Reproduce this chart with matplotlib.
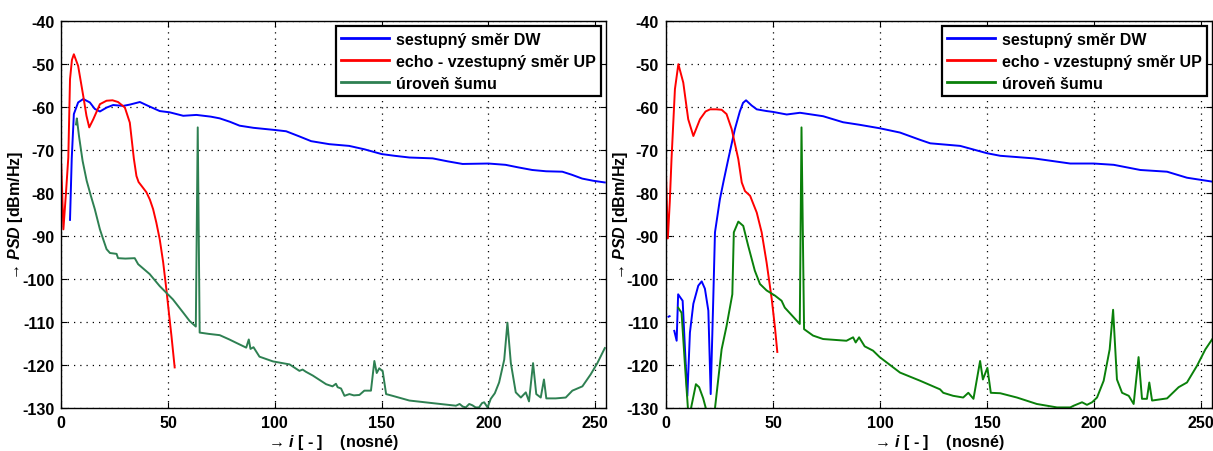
import numpy as np
import matplotlib
matplotlib.use("Agg")
import matplotlib.pyplot as plt

plt.rcParams['font.family'] = ['Liberation Sans', 'DejaVu Sans']
plt.rcParams['font.weight'] = 'bold'
plt.rcParams['axes.unicode_minus'] = False
plt.rcParams['mathtext.fontset'] = 'custom'
plt.rcParams['mathtext.rm'] = 'Liberation Sans:bold'
plt.rcParams['mathtext.it'] = 'Liberation Sans:italic:bold'
plt.rcParams['mathtext.bf'] = 'Liberation Sans:bold'

nan = np.nan

# ---------------- left panel ----------------
L_dw_x = [4.1, 4.9, 5.9, 7.9, 10.3, 13.4, 15.7, 18.1, 21.2, 24.3, 29.0, 32.1, 36.8, 40.7, 46.1, 50.8, 57.1,
          63.3, 70, 74.2, 79, 83.5, 90, 100, 105.3, 111.5, 117, 125.5, 134.8, 142, 150, 156, 163, 173.9, 181,
          187.9, 200, 208, 214, 220.5, 227, 234.6, 239, 243.9, 249, 254.5]
L_dw_y = [-86.2, -72.0, -61.6, -58.9, -58.1, -58.9, -60.4, -61.0, -60.1, -59.5, -59.7, -59.4, -58.8, -59.7, -60.9,
          -61.2, -62.0, -61.8, -62.2, -62.6, -63.4, -64.3, -64.8, -65.3, -65.6, -66.8, -67.9, -68.6, -69.0, -69.8,
          -70.9, -71.3, -71.7, -71.9, -72.6, -73.2, -73.1, -73.4, -74.0, -74.6, -74.9, -75.0, -75.7, -76.6, -77.1,
          -77.5]

L_up_x = [0, 1.0, 2.2, 3.3, 4.1, 5.0, 5.9, 7.9, 10.3, 11.8, 13.1, 15.0, 18.1, 21.2, 24.0, 26.6, 29.8, 32.1, 34.0,
          35.2, 36.2, 37.6, 39.9, 41.5, 43, 44.5, 46.1, 47.7, 49.2, 50.4, 51.6, 53.1]
L_up_y = [-73.4, -88.4, -80.0, -71.7, -53.5, -49.0, -47.7, -50.4, -57.4, -62.0, -64.7, -62.8, -59.3, -58.5, -58.4,
          -58.8, -60.1, -63.6, -72.0, -76.0, -77.4, -78.3, -79.8, -81.5, -83.7, -86.8, -90.7, -96.0, -102.3,
          -107.8, -113.2, -120.5]

L_nz_x = [6.9, 7.3, 8.3, 10, 11.9, 13.8, 15.7, 18.1, 19.7, 21.2, 22.8, 25.9, 26.6, 30, 34.4, 36, 41.4, 46.1, 52.3,
          57, 60.1, 63.0, 63.9, 64.8, 69, 74.2, 78.7, 82, 86.6, 87.8, 88.6, 89.3, 90, 92.8, 99.1, 106.9, 111.5,
          113, 114.5, 117.8, 124, 127, 128.6, 129.4, 131, 132.6, 134.9, 137, 139.6, 141.9, 145, 146.6, 147.7,
          148.9, 150.5, 152.1, 155.1, 163, 173.8, 184.8, 186.5, 188, 189.4, 191, 192.5, 194, 195.6, 197, 198,
          199.6, 201.1, 203, 205, 207.4, 208.9, 210.5, 212.8, 215.2, 217.5, 219, 220.9, 222.4, 224.5, 226,
          227.1, 231.5, 236.2, 239.3, 244, 247.9, 251, 254.5]
L_nz_y = [-64.0, -62.6, -66.7, -72.5, -77.1, -80.5, -83.7, -88.4, -90.8, -93.0, -93.9, -94.1, -95.1, -95.2, -95.1,
          -96.5, -98.8, -101.6, -104.7, -107.7, -109.7, -111.0, -64.7, -112.4, -112.7, -113.0, -114.0, -114.8,
          -115.9, -114.0, -116.2, -116.0, -115.8, -118.0, -119.1, -119.8, -121.3, -121.0, -121.5, -122.4, -124.4,
          -124.9, -124.3, -125.1, -125.4, -127.1, -126.7, -127.0, -126.9, -125.9, -125.9, -119.0, -121.8, -120.7,
          -121.4, -126.7, -127.1, -128.2, -128.8, -129.4, -129.0, -129.6, -129.8, -129.0, -129.3, -129.8, -129.8,
          -128.8, -128.6, -129.8, -127.8, -126.5, -124.0, -118.7, -110.1, -119.5, -126.3, -127.5, -126.3, -128.4,
          -119.5, -126.7, -127.5, -123.3, -127.7, -127.7, -127.5, -125.9, -124.9, -122.1, -119.5, -116.0]

# ---------------- right panel ----------------
R_dw_x = [1.2, 1.7, nan, 3.9, 5.0, 5.7, 6.8, 7.8, 8.9, 10.0, 11.2, 12.8, 15.1, 16.7, 18.2, 19.8, 20.9, 22.1, 22.9,
          25.2, 27.0, 29.1, 32.2, 34.5, 36.0, 37.4, 40.0, 42.4, 47.0, 50.0, 56.4, 62.6, 73.4, 82.7, 90.5, 99.8,
          109.3, 118.7, 123.4, 137.4, 149.9, 156.1, 171.7, 188.8, 199.8, 209.1, 221.5, 234.0, 243.3, 255.0]
R_dw_y = [-108.7, -108.6, nan, -112.0, -114.3, -103.5, -104.3, -105.0, -116.3, -127.1, -112.4, -105.7, -101.5,
          -100.5, -102.2, -107.3, -126.7, -104.6, -89.1, -81.4, -77.0, -72.1, -65.1, -61.0, -59.0, -58.4, -59.6,
          -60.5, -60.9, -61.1, -61.7, -61.3, -62.1, -63.5, -64.1, -64.9, -65.9, -67.6, -68.4, -69.0, -70.7, -71.3,
          -71.9, -73.1, -73.1, -73.4, -74.6, -75.0, -76.4, -77.3]

R_up_x = [0, 0.9, 1.8, 2.6, 4.2, 5.8, 8.1, 10.4, 12.8, 15.9, 18.5, 20.6, 23.5, 26.0, 28.3, 30.7, 33.8, 35.4, 36.9,
          39.3, 42.4, 44.7, 47.0, 49.4, 50.9, 52.0]
R_up_y = [-75.2, -90.5, -82.0, -72.1, -55.8, -50.0, -54.3, -62.8, -66.7, -62.8, -61.0, -60.5, -60.5, -60.6, -61.6,
          -65.1, -72.1, -77.5, -79.5, -80.6, -84.5, -89.1, -96.1, -104.6, -111.2, -116.9]

R_nz_x = [5.7, 7.3, 8.9, 10.4, 11.0, 11.7, 14.0, 15.5, 17.4, 18.9, 19.5, 22.9, 26.0, 28.3, 31.0, 31.7, 33.8, 36.1,
          38.4, 41.5, 43.9, 47.0, 50.9, 54.0, 55.5, 62.5, 63.3, 64.5, 68.7, 73.4, 84.3, 87.4, 88.6, 90.2, 92.8,
          96.7, 99.8, 109.3, 118.7, 128.0, 129.5, 134.1, 138.8, 141.2, 143.6, 146.7, 148.0, 150.1, 151.7, 156.1,
          163.9, 173.2, 182.6, 188.8, 190.4, 194.3, 196.6, 199.0, 201.3, 204.4, 207.2, 208.8, 210.6, 213.0,
          216.1, 218.4, 220.7, 222.3, 224.6, 225.7, 227.0, 234.0, 239.4, 243.3, 248.0, 251.9, 255.0]
R_nz_y = [-106.6, -107.8, -120.1, -131.0, -134.0, -130.0, -124.4, -125.1, -127.7, -130.5, -134.0, -130.0, -116.3,
          -110.9, -103.5, -89.1, -86.6, -87.6, -92.2, -98.0, -101.1, -102.6, -103.8, -105.0, -106.6, -110.4, -64.7,
          -111.6, -113.1, -113.9, -114.3, -113.5, -114.7, -113.5, -115.6, -116.6, -118.1, -121.7, -123.6, -125.6,
          -126.4, -127.1, -127.5, -126.4, -127.8, -119.0, -123.3, -120.6, -126.4, -126.5, -127.5, -129.0, -129.8,
          -129.8, -129.4, -128.6, -129.2, -128.6, -127.5, -123.6, -116.3, -107.1, -123.3, -126.4, -127.1, -129.0,
          -118.1, -127.8, -127.8, -124.0, -128.2, -127.7, -125.1, -124.0, -120.1, -116.3, -114.0]

labels = ['sestupný směr DW', 'echo - vzestupný směr UP', 'úroveň šumu']
x_ticks = [0, 50, 100, 150, 200, 250]
y_ticks = [-40, -50, -60, -70, -80, -90, -100, -110, -120, -130]

fig = plt.figure(figsize=(12.13, 4.52), dpi=100)
ax1 = fig.add_axes([0.0505, 0.0945, 0.4490, 0.8565])
ax2 = fig.add_axes([0.5490, 0.0945, 0.4502, 0.8565])

panels = [
    (ax1, L_dw_x, L_dw_y, L_up_x, L_up_y, L_nz_x, L_nz_y, '#2e8052'),
    (ax2, R_dw_x, R_dw_y, R_up_x, R_up_y, R_nz_x, R_nz_y, '#0a800a'),
]

for ax, dx, dy, ux, uy, nx, ny, ncol in panels:
    ax.plot(dx, dy, color='#0000ff', lw=1.4, label=labels[0])
    ax.plot(ux, uy, color='#ff0000', lw=1.4, label=labels[1])
    ax.plot(nx, ny, color=ncol, lw=1.4, label=labels[2])
    ax.set_xlim(0, 255)
    ax.set_ylim(-130, -40)
    ax.set_xticks(x_ticks)
    ax.set_yticks(y_ticks)
    ax.grid(True, color='black', linestyle=(0, (1, 4)), linewidth=0.9)
    ax.tick_params(direction='in', top=True, right=True, length=4, width=0.8,
                   labelsize=11.5, pad=5)
    for lab in ax.get_xticklabels() + ax.get_yticklabels():
        lab.set_fontweight('bold')
    for sp in ax.spines.values():
        sp.set_linewidth(1.0)
    ax.set_ylabel(r'→ $PSD$ [dBm/Hz]', fontsize=11.5, fontweight='bold')
    ax.yaxis.set_label_coords(-0.066, 0.5)
    ax.set_xlabel(r'→ $i$ [ - ]    (nosné)', fontsize=11.5, fontweight='bold', labelpad=1)
    leg = ax.legend(loc='upper right', handlelength=3.0, handletextpad=0.4,
                    borderaxespad=0.3, labelspacing=0.45, borderpad=0.35, fancybox=False,
                    framealpha=1, edgecolor='black', prop={'weight': 'bold', 'size': 11.5})
    leg.get_frame().set_linewidth(1.6)
    for h in leg.get_lines():
        h.set_linewidth(2.0)

fig.savefig('out.png', dpi=100)
